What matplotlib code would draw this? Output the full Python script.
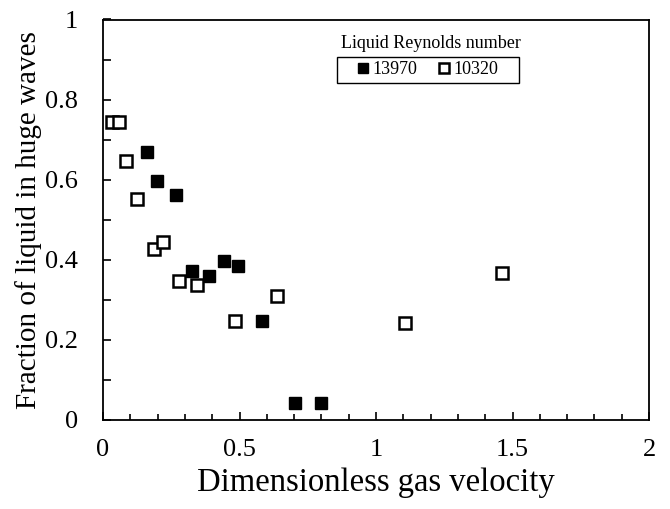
import numpy as np
import matplotlib
matplotlib.use('Agg')
import matplotlib.pyplot as plt
from matplotlib.ticker import MultipleLocator, FuncFormatter
from matplotlib.patches import Rectangle

plt.rcParams['font.family'] = ['Liberation Serif', 'DejaVu Serif']

# Re_L = 13970 (filled squares)
x_13970 = [0.161, 0.198, 0.267, 0.326, 0.388, 0.443, 0.495, 0.582, 0.703, 0.799]
y_13970 = [0.670, 0.597, 0.562, 0.372, 0.360, 0.398, 0.384, 0.246, 0.042, 0.042]

# Re_L = 10320 (open squares)
x_10320 = [0.034, 0.060, 0.083, 0.123, 0.186, 0.220, 0.279, 0.344, 0.639, 0.484, 1.105, 1.463]
y_10320 = [0.745, 0.745, 0.647, 0.551, 0.427, 0.444, 0.346, 0.338, 0.310, 0.248, 0.242, 0.368]

labels = ['13970', '10320']

fig = plt.figure(figsize=(6.7, 5.09), dpi=100)
ax = fig.add_axes([103/670, 1-420/509, 546/670, 400.5/509])

ax.plot(x_13970, y_13970, 's', ms=8.3, color='black', mec='black', label=labels[0])
ax.plot(x_10320, y_10320, 's', ms=8.3, mfc='white', mec='black', mew=1.8, label=labels[1])

ax.set_xlim(0, 2)
ax.set_ylim(0, 1)
ax.xaxis.set_major_locator(MultipleLocator(0.5))
ax.xaxis.set_minor_locator(MultipleLocator(0.1))
ax.yaxis.set_major_locator(MultipleLocator(0.2))
ax.yaxis.set_minor_locator(MultipleLocator(0.1))
fmt = FuncFormatter(lambda v, p: '%g' % v)
ax.xaxis.set_major_formatter(fmt)
ax.yaxis.set_major_formatter(fmt)

ax.tick_params(axis='x', which='major', direction='in', length=6, width=1.2, labelsize=19, pad=14)
ax.tick_params(axis='x', which='minor', direction='in', length=4, width=1.2)
ax.tick_params(axis='y', which='major', direction='in', length=6, width=1.2, labelsize=19, pad=18)
ax.tick_params(axis='y', which='minor', direction='in', length=6, width=1.2)
for sp in ax.spines.values():
    sp.set_linewidth(1.3)

ax.set_xlabel('Dimensionless gas velocity', fontsize=23.5, labelpad=4)
ax.set_ylabel('Fraction of liquid in huge waves', fontsize=21, labelpad=2)

leg = ax.legend(loc='center', bbox_to_anchor=(428/670, 1-70/509), bbox_transform=fig.transFigure,
                ncol=2, fontsize=13, frameon=False,
                handlelength=0.6, handletextpad=0.2, columnspacing=1.2, borderpad=0.25,
                markerscale=0.9)
fig.patches.append(Rectangle((337/670, 1-83/509), 182/670, 26/509, transform=fig.transFigure,
                             fill=False, edgecolor='black', linewidth=1.0))
fig.text(431/670, 1-43/509, 'Liquid Reynolds number', fontsize=13, ha='center', va='center')

fig.savefig('out.png', dpi=100)
